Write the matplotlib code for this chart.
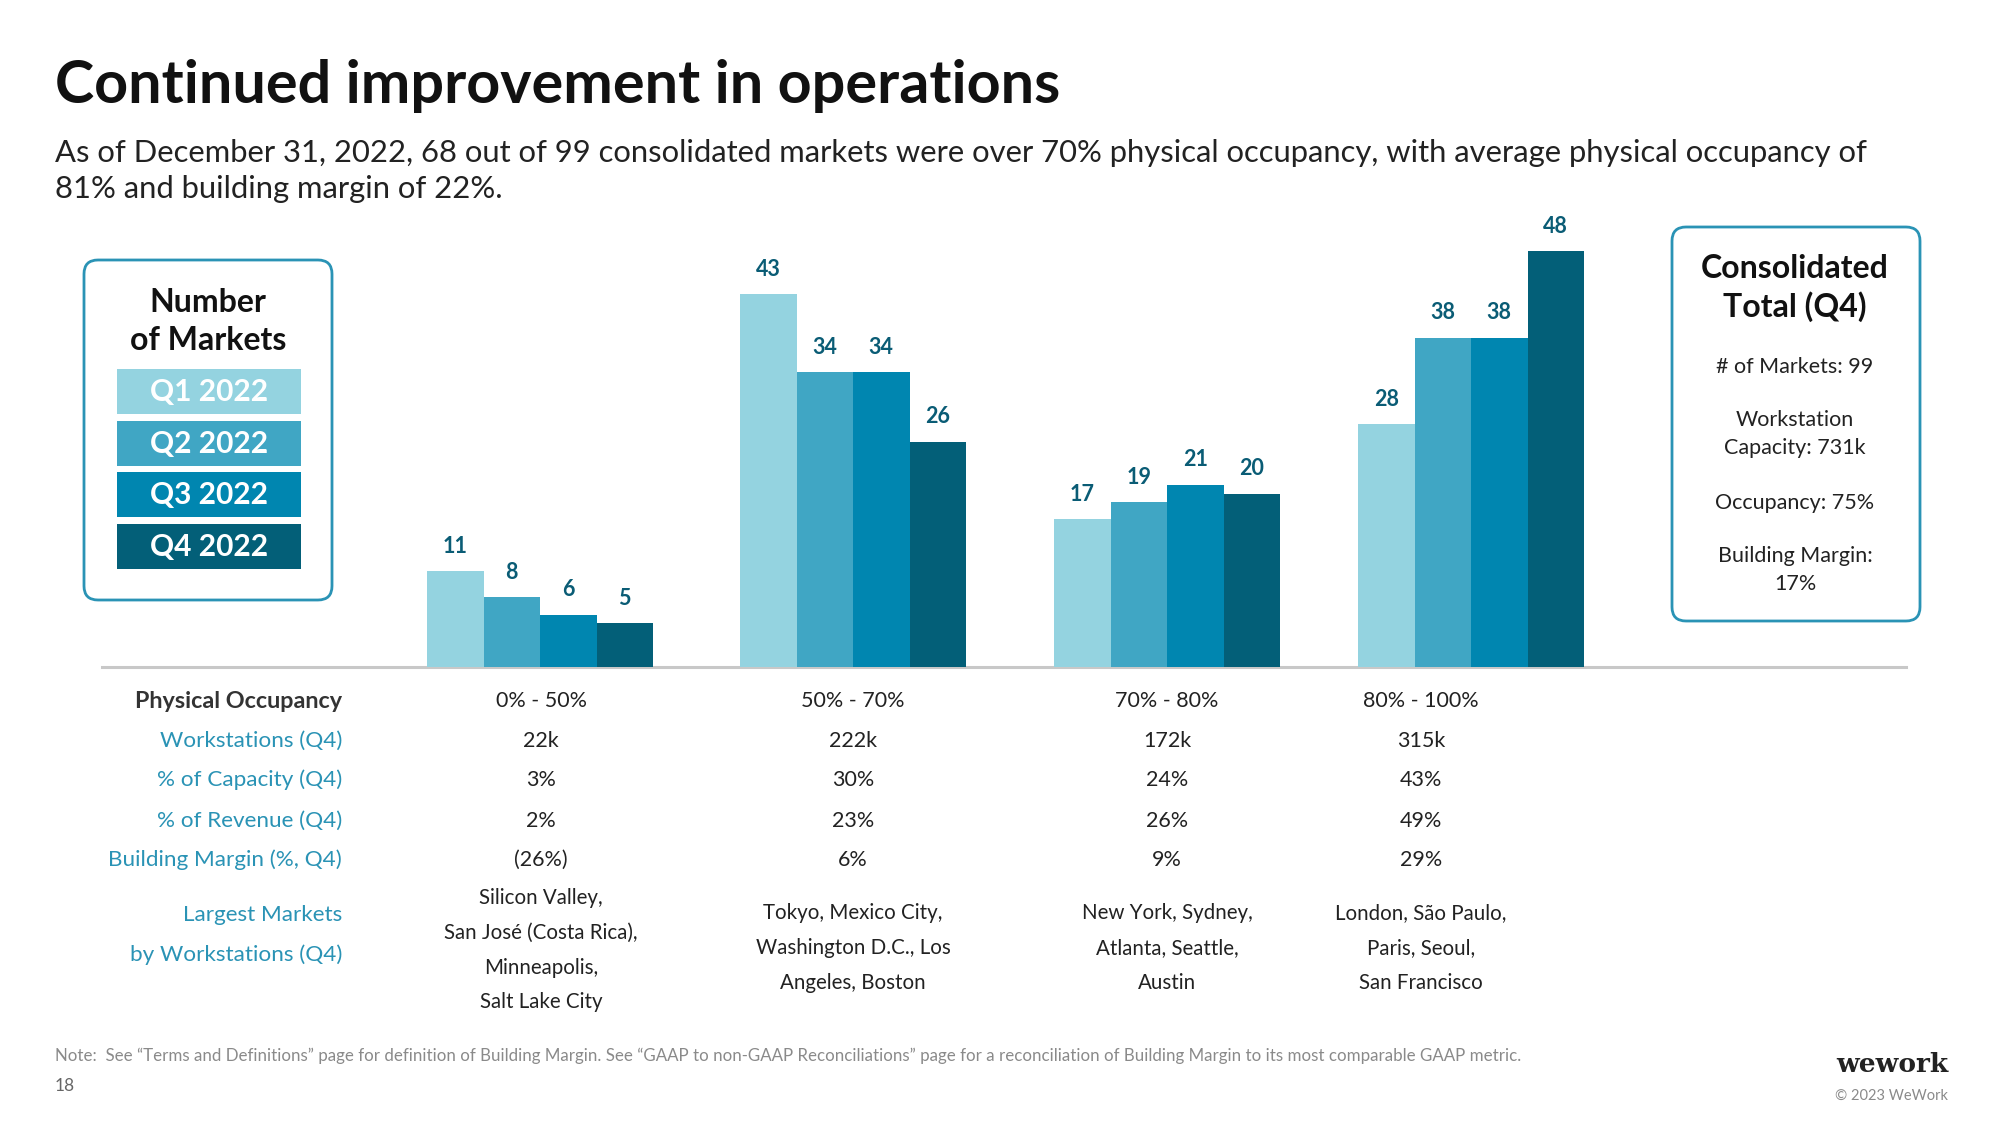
import numpy as np
import matplotlib.pyplot as plt
from matplotlib.patches import FancyBboxPatch, Rectangle

plt.rcParams['font.family'] = ['Lato', 'DejaVu Sans']

W, H = 2000, 1125

# data
categories = ["0% - 50%", "50% - 70%", "70% - 80%", "80% - 100%"]
quarters = ["Q1 2022", "Q2 2022", "Q3 2022", "Q4 2022"]
q1 = [11, 43, 17, 28]
q2 = [8, 34, 19, 38]
q3 = [6, 34, 21, 38]
q4 = [5, 26, 20, 48]
workstations = ["22k", "222k", "172k", "315k"]
capacity_pct = ["3%", "30%", "24%", "43%"]
revenue_pct = ["2%", "23%", "26%", "49%"]
margin_pct = ["(26%)", "6%", "9%", "29%"]
largest = [["Silicon Valley,", "San José (Costa Rica),", "Minneapolis,", "Salt Lake City"],
           ["Tokyo, Mexico City,", "Washington D.C., Los", "Angeles, Boston"],
           ["New York, Sydney,", "Atlanta, Seattle,", "Austin"],
           ["London, São Paulo,", "Paris, Seoul,", "San Francisco"]]
row_labels = ["Physical Occupancy", "Workstations (Q4)", "% of Capacity (Q4)",
              "% of Revenue (Q4)", "Building Margin (%, Q4)"]
total_lines = ["# of Markets: 99", "Workstation\nCapacity: 731k",
               "Occupancy: 75%", "Building Margin:\n17%"]

colors = ["#94d3e0", "#40a6c4", "#0086b0", "#035f78"]
teal = "#2a93b5"
label_col = "#0a5c75"

# layout (pixels)
group_x = np.array([540, 853, 1167, 1471])
bar_w = 56.5
base_y = 666.7
px_per_unit = 8.66
top_y = 150

fig = plt.figure(figsize=(W / 100, H / 100), dpi=100)

# overlay in pixel coords
ov = fig.add_axes([0, 0, 1, 1])
ov.set_xlim(0, W)
ov.set_ylim(H, 0)
ov.axis('off')

ax = fig.add_axes([0, (H - base_y) / H, 1, (base_y - top_y) / H])
ax.set_xlim(0, W)
ax.set_ylim(0, (base_y - top_y) / px_per_unit)
ax.axis('off')

ax.plot([102, 1906], [0, 0], color="#c8c8c8", lw=2.2, zorder=1, clip_on=False)
for i, vals in enumerate([q1, q2, q3, q4]):
    xs = group_x + (i - 1.5) * bar_w
    ax.bar(xs, vals, width=bar_w, color=colors[i], zorder=2)
    for x, v in zip(xs, vals):
        ax.annotate(str(v), (x, v), xytext=(0, 18), textcoords='offset points',
                    ha='center', va='center', fontsize=15.5, fontweight='bold',
                    color=label_col)

# title
ov.text(55, 103, "Continued improvement in operations", fontsize=42.7,
        fontweight='bold', color='#111111', va='baseline')
ov.text(55, 162, "As of December 31, 2022, 68 out of 99 consolidated markets were over 70% "
        "physical occupancy, with average physical occupancy of",
        fontsize=22.3, color='#222222', va='baseline')
ov.text(55, 198, "81% and building margin of 22%.", fontsize=22.3, color='#222222', va='baseline')

# legend box
ov.add_patch(FancyBboxPatch((84, 260), 248, 340, boxstyle="round,pad=0,rounding_size=14",
                            fc='white', ec=teal, lw=2))
ov.text(208, 303, "Number", ha='center', va='center', fontsize=23, fontweight='bold', color='#111111')
ov.text(208, 340, "of Markets", ha='center', va='center', fontsize=23, fontweight='bold', color='#111111')
leg_y = [369, 421, 472, 524]
for c, q, y in zip(colors, quarters, leg_y):
    ov.add_patch(Rectangle((117, y), 184, 45, fc=c, ec='none'))
    ov.text(209, y + 23, q, ha='center', va='center', fontsize=21.5, fontweight='bold', color='white')

# right box
ov.add_patch(FancyBboxPatch((1672, 227), 248, 394, boxstyle="round,pad=0,rounding_size=14",
                            fc='white', ec=teal, lw=2))
ov.text(1795, 269, "Consolidated", ha='center', va='center', fontsize=23,
        fontweight='bold', color='#111111')
ov.text(1795, 307, "Total (Q4)", ha='center', va='center', fontsize=23,
        fontweight='bold', color='#111111')
for t, y in zip(total_lines, [367, 434, 503, 570]):
    ov.text(1795, y, t, ha='center', va='center', fontsize=15.5, color='#222222', linespacing=1.55)

# table
row_y = [701, 741, 780, 821, 860]
col_x = [541, 853, 1167, 1421]
for j, (lab, y) in enumerate(zip(row_labels, row_y)):
    ov.text(342, y, lab, ha='right', va='center', fontsize=16.8 if j == 0 else 16.2,
            fontweight='bold' if j == 0 else 'normal',
            color='#333333' if j == 0 else teal)
for row, y in zip([categories, workstations, capacity_pct, revenue_pct, margin_pct], row_y):
    for x, v in zip(col_x, row):
        ov.text(x, y, v, ha='center', va='center', fontsize=15.5, color='#222222')
ov.text(342, 915, "Largest Markets", ha='right', va='center', fontsize=16.2, color=teal)
ov.text(342, 955, "by Workstations (Q4)", ha='right', va='center', fontsize=16.2, color=teal)
for x, lines in zip(col_x, largest):
    n = len(lines)
    y0 = (950 if n == 4 else 948) - (n - 1) * 35 / 2
    for k, line in enumerate(lines):
        ov.text(x, y0 + k * 35, line, ha='center', va='center', fontsize=14.8, color='#222222')

# footer
ov.text(55, 1056, "Note:  See \u201cTerms and Definitions\u201d page for definition of Building Margin. "
        "See \u201cGAAP to non-GAAP Reconciliations\u201d page for a reconciliation of Building Margin "
        "to its most comparable GAAP metric.", fontsize=12.2, color='#8a8a8a', va='center')
ov.text(55, 1086, "18", fontsize=12.5, color='#666666', va='center')
ov.text(1948, 1064, "wework", fontsize=19, fontweight='bold', family='DejaVu Serif',
        color='#222222', ha='right', va='center')
ov.text(1948, 1096, "\u00a9 2023 WeWork", fontsize=10.5, color='#8a8a8a', ha='right', va='center')

fig.savefig("out.png", dpi=100, facecolor='white')
